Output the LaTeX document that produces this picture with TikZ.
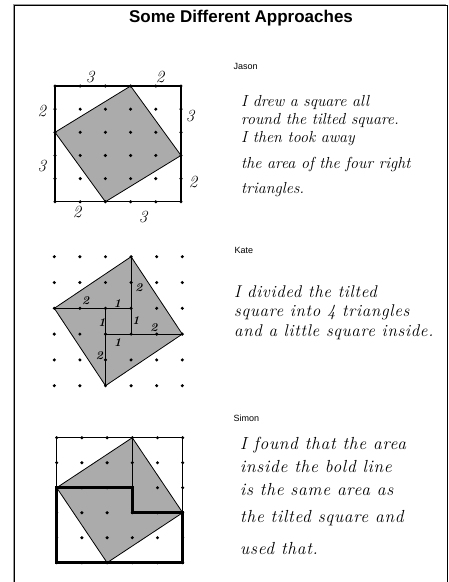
\documentclass[tikz,border=0pt]{standalone}
\usepackage{fontspec}
\setmainfont{Liberation Sans}
\newfontfamily\handfont{Latin Modern Roman}
\usepackage{tikz}

\begin{document}
\begin{tikzpicture}[x=1pt, y=-1pt,
    tilted/.style={draw, fill=black!33, line width=0.8pt, line join=round},
    pupil/.style={anchor=west, font=\fontsize{9}{10}\selectfont},
    note/.style 2 args={anchor=west, inner sep=0pt, font=\handfont\itshape\fontsize{#1}{#1}\selectfont\addfontfeature{LetterSpace=#2}},
    side/.style={font=\handfont\itshape\fontsize{17}{17}\selectfont},
    piece/.style={font=\handfont\bfseries\itshape\fontsize{12}{12}\selectfont}]
	\useasboundingbox (0,0) rectangle (448,582);
	\draw[black!40, line width=1pt] (13,582) -- (13,4) -- (446,4);
	\draw[line width=1pt] (14,582) -- (14,5) -- (447,5) -- (447,582);
	\node[font=\bfseries\fontsize{17}{17}\selectfont] (title) at (241,18) {Some Different Approaches};

	\begin{scope}[shift={(55,86)}, x=25.2pt, y=-23.15pt]
		\draw[tilted] (3,0) -- (5,3) -- (2,5) -- (0,2) -- cycle;
		\draw[line width=1.2pt] (0,0) rectangle (5,5);
		\foreach \i in {0,...,5} \foreach \j in {0,...,5} \fill (\i,\j) circle (1.7pt);
	\end{scope}
	\foreach \p/\t [count=\k] in {{(90,77)}/3, {(160,77)}/2, {(42,111)}/2, {(42,166)}/3, {(190,116)}/3, {(193,182)}/2, {(77,212)}/2, {(143,217)}/3}
		\node[side] (jside\k) at \p {\t};
	\node[pupil] (jason) at (230,66) {Jason};
	\foreach \y/\t [count=\k] in {102/I drew a square all, 120/round the tilted square., 139/I then took away, 164/the area of the four right, 190/triangles.}
		\node[note={16}{0}] (jason\k) at (241,\y) {\t};

	\begin{scope}[shift={(54.3,256.7)}, x=25.6pt, y=-25.8pt]
		\draw[tilted] (3,0) -- (5,3) -- (2,5) -- (0,2) -- cycle;
		\draw[line width=1.2pt] (3,0) -- (3,3) (0,2) -- (3,2) (5,3) -- (2,3) (2,5) -- (2,2);
		\foreach \i in {0,...,5} \foreach \j in {0,...,5} \fill (\i,\j) circle (1.7pt);
	\end{scope}
	\foreach \p/\t [count=\k] in {{(85.7,300.7)}/2, {(117.3,303.3)}/1, {(139,287.3)}/2, {(102,322.3)}/1, {(136,321)}/1, {(154,327.3)}/2, {(117.7,342.7)}/1, {(99.3,355.3)}/2}
		\node[piece] (kpiece\k) at \p {\t};
	\node[pupil] (kate) at (231,250) {Kate};
	\foreach \y/\t [count=\k] in {292/I divided the tilted, 312/square into 4 triangles, 332/and a little square inside.}
		\node[note={17}{4}] (kate\k) at (234,\y) {\t};

	\begin{scope}[shift={(56.7,437.7)}, x=25.2pt, y=-25pt]
		\draw[tilted] (3,0) -- (5,3) -- (2,5) -- (0,2) -- cycle;
		\draw[line width=1.2pt] (0,2) -- (0,0) -- (5,0) -- (5,3) (3,0) -- (3,2);
		\draw[line width=3.2pt] (0,2) -- (3,2) -- (3,3) -- (5,3) -- (5,5) -- (0,5) -- cycle;
		\foreach \i in {0,...,5} \foreach \j in {0,...,5} \fill (\i,\j) circle (1.7pt);
	\end{scope}
	\node[pupil] (simon) at (230,418) {Simon};
	\foreach \y/\t [count=\k] in {445/I found that the area, 467/inside the bold line, 490/is the same area as, 518/the tilted square and, 549/used that.}
		\node[note={17.5}{4}] (simon\k) at (240,\y) {\t};
\end{tikzpicture}
\end{document}
